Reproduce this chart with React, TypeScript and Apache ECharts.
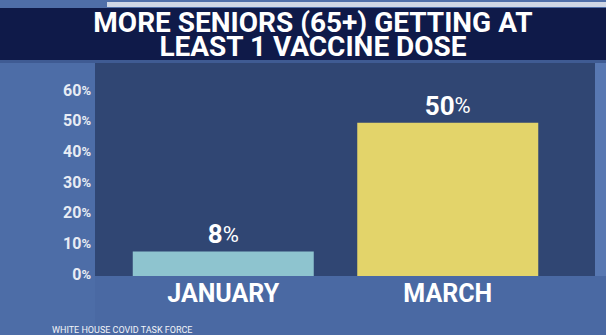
import React, { useEffect, useRef } from "react";
import * as echarts from "echarts";

const titleLines = ["MORE SENIORS (65+) GETTING AT", "LEAST 1 VACCINE DOSE"];
const categories = ["JANUARY", "MARCH"];
const values = [8, 50];
const barColors = ["#8ec4cf", "#e3d46a"];
const yTicks = [0, 10, 20, 30, 40, 50, 60];
const source = "WHITE HOUSE COVID TASK FORCE";

export default function App() {
  const ref = useRef<HTMLDivElement>(null);
  useEffect(() => {
    if (!ref.current) return;
    const chart = echarts.init(ref.current, null, { renderer: "svg" });
    const font = "Roboto, 'Open Sans', sans-serif";
    chart.setOption({
      animation: false,
      backgroundColor: "#4a69a3",
      graphic: [
        { type: "rect", z: -10, shape: { x: 0, y: 0, width: 606, height: 8 }, style: { fill: "#4f6ea8" } },
        { type: "rect", z: -9, shape: { x: 107, y: 2, width: 499, height: 5 }, style: { fill: "#cfd6e4" } },
        { type: "rect", z: -10, shape: { x: 0, y: 8, width: 606, height: 52 }, style: { fill: "#0f1a49" } },
        { type: "rect", z: -10, shape: { x: 0, y: 60, width: 606, height: 3 }, style: { fill: "#3f5b93" } },
        { type: "rect", z: -10, shape: { x: 0, y: 63, width: 95, height: 272 }, style: { fill: "#4d6da7" } },
        { type: "rect", z: -10, shape: { x: 95, y: 63, width: 500, height: 213 }, style: { fill: "#304673" } },
        { type: "rect", z: -10, shape: { x: 595, y: 63, width: 11, height: 213 }, style: { fill: "#5878b2" } },
        ...titleLines.map((t, i) => ({
          type: "text",
          x: 313,
          y: 22.5 + i * 24,
          style: {
            text: t,
            fill: "#ffffff",
            font: `bold 28px ${font}`,
            lineHeight: 22,
            align: "center",
            verticalAlign: "middle",
          },
        })),
        {
          type: "text",
          x: 52,
          y: 330,
          style: { text: source, fill: "#f2f4f8", font: `normal 9px ${font}`, verticalAlign: "middle" },
        },
      ],
      grid: { left: 111, right: 46, top: 92, bottom: 59 },
      xAxis: {
        type: "category",
        data: categories,
        axisLine: { show: false },
        axisTick: { show: false },
        axisLabel: {
          color: "#ffffff",
          fontFamily: font,
          fontWeight: "bold",
          fontSize: 25,
          margin: 5,
        },
      },
      yAxis: {
        type: "value",
        min: yTicks[0],
        max: yTicks[yTicks.length - 1],
        interval: 10,
        splitLine: { show: false },
        axisLine: { show: false },
        axisTick: { show: false },
        axisLabel: {
          margin: 20,
          padding: [0, 0, 4, 0],
          formatter: (v: number) => `{n|${v}}{p|%}`,
          rich: {
            n: { color: "#e8ecf4", fontFamily: font, fontWeight: "bold", fontSize: 16 },
            p: { color: "#e8ecf4", fontFamily: font, fontWeight: "bold", fontSize: 13 },
          },
        },
      },
      series: [
        {
          type: "bar",
          barWidth: 181,
          data: values.map((v, i) => ({ value: v, itemStyle: { color: barColors[i] } })),
          label: {
            show: true,
            position: "top",
            distance: 4,
            formatter: (p: any) => `{n|${p.value}}{p|%}`,
            rich: {
              n: { color: "#ffffff", fontFamily: font, fontWeight: "bold", fontSize: 26 },
              p: { color: "#ffffff", fontFamily: font, fontWeight: "normal", fontSize: 22 },
            },
          },
        },
      ],
    });
    return () => chart.dispose();
  }, []);
  return (
    <div
      ref={ref}
      style={{ position: "fixed", left: 0, top: 0, width: 606, height: 335 }}
    />
  );
}
